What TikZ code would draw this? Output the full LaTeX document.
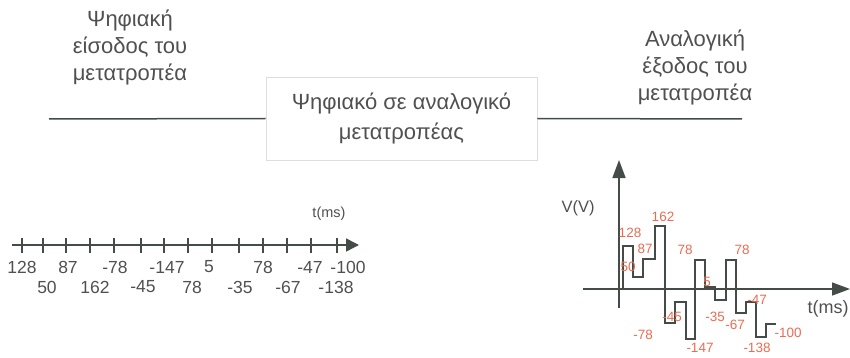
\documentclass[tikz,border=0pt]{standalone}
\usepackage{fontspec}
\setmainfont{Liberation Sans}
\usetikzlibrary{arrows.meta}
\definecolor{inkgray}{RGB}{68,76,72}
\definecolor{txtgray}{RGB}{80,80,80}
\definecolor{valred}{RGB}{234,108,82}
\definecolor{boxgray}{RGB}{222,222,222}
\tikzset{every picture/.style={line width=1.5pt}}
\tikzset{
  title/.style={align=center,text=txtgray,font=\fontsize{22}{27}\selectfont},
  num/.style={text=txtgray,inner sep=0pt,font=\fontsize{17.5}{20}\selectfont},
  val/.style={text=valred,inner sep=0pt,font=\fontsize{13.5}{15}\selectfont},
  axlabel/.style={text=txtgray,inner sep=0pt},
  tip/.style={-{Triangle[length=#1,width=13pt]}}
}

\begin{document}
\begin{tikzpicture}[x=1pt,y=1pt,yscale=-1,xscale=1]
\useasboundingbox (0,0) rectangle (850,358);

% Titles
\node[title] (inTitle) at (130,47) {Ψηφιακή\\είσοδος του\\μετατροπέα};
\node[title] (outTitle) at (695,67) {Αναλογική\\έξοδος του\\μετατροπέα};

% Converter box
\node[draw=boxgray,line width=0.8pt,minimum width=271,minimum height=83,
  align=center,text=txtgray,font=\fontsize{22}{30}\selectfont] (dac) at (401.5,118.5)
  {Ψηφιακό σε αναλογικό\\μετατροπέας};
\coordinate (inEnd) at (49,119);
\coordinate (outEnd) at (742,119);
\draw[inkgray] (inEnd) -- (dac.west);
\draw[inkgray] (dac.east) -- (outEnd);

% Digital input: number line
\coordinate (lineStart) at (12,245);
\coordinate (lineEnd) at (359,245);
\draw[inkgray,tip=13pt] (lineStart) -- (lineEnd);
\foreach \x in {22,43,66,90,114,141,164,188,212,239,263,287,311,337}
  \draw[inkgray,line width=1.1pt] (\x,238) -- (\x,253);
\node[axlabel,font=\fontsize{14.5}{16}\selectfont] (tLeft) at (329,214) {t(ms)};
\foreach \x/\v [count=\i] in {22/128,68/87,115/-78,167/-147,209/5,263/78,310/-47,348/-100}
  \node[num] (top\i) at (\x,267) {\v};
\foreach \x/\v [count=\i] in {47/50,95/162,143/-45,192/78,240/-35,288/-67,336/-138}
  \node[num] (bot\i) at (\x,287) {\v};

% Analog output: axes
\coordinate (vBase) at (619,308);
\coordinate (vTop) at (619,160);
\coordinate (hStart) at (583,289);
\coordinate (hEnd) at (850,289);
\draw[inkgray,tip=18pt] (vBase) -- (vTop);
\draw[inkgray,tip=18pt] (hStart) -- (hEnd);
\node[axlabel,font=\fontsize{16.5}{18}\selectfont] (vLabel) at (578,208) {V(V)};
\node[axlabel,font=\fontsize{18}{20}\selectfont] (tRight) at (828,309) {t(ms)};

% Staircase output
\draw[inkgray,line width=1.3pt] (623,289) -- (623,246) -- (633,246) -- (633,277) -- (643,277)
  -- (643,259) -- (655,259) -- (655,226) -- (665,226) -- (665,323) -- (675,323)
  -- (675,302) -- (686,302) -- (686,339) -- (695,339) -- (695,260) -- (705,260)
  -- (705,287) -- (715,287) -- (715,300) -- (726,300) -- (726,260) -- (736,260)
  -- (736,313) -- (746,313) -- (746,302) -- (756,302) -- (756,337) -- (766,337)
  -- (766,324) -- (776,324);

% Sample values
\foreach \x/\y/\v [count=\i] in {630/233/128,663/217/162,645/249/87,628/267/50,
  685/250/78,742/250/78,707/282/5,672/317/-45,715/317/-35,643/335/-78,
  700/348/-147,735/325/-67,757/300/-47,757/348/-138,788/333/-100}
  \node[val] (val\i) at (\x,\y) {\v};
\end{tikzpicture}
\end{document}
